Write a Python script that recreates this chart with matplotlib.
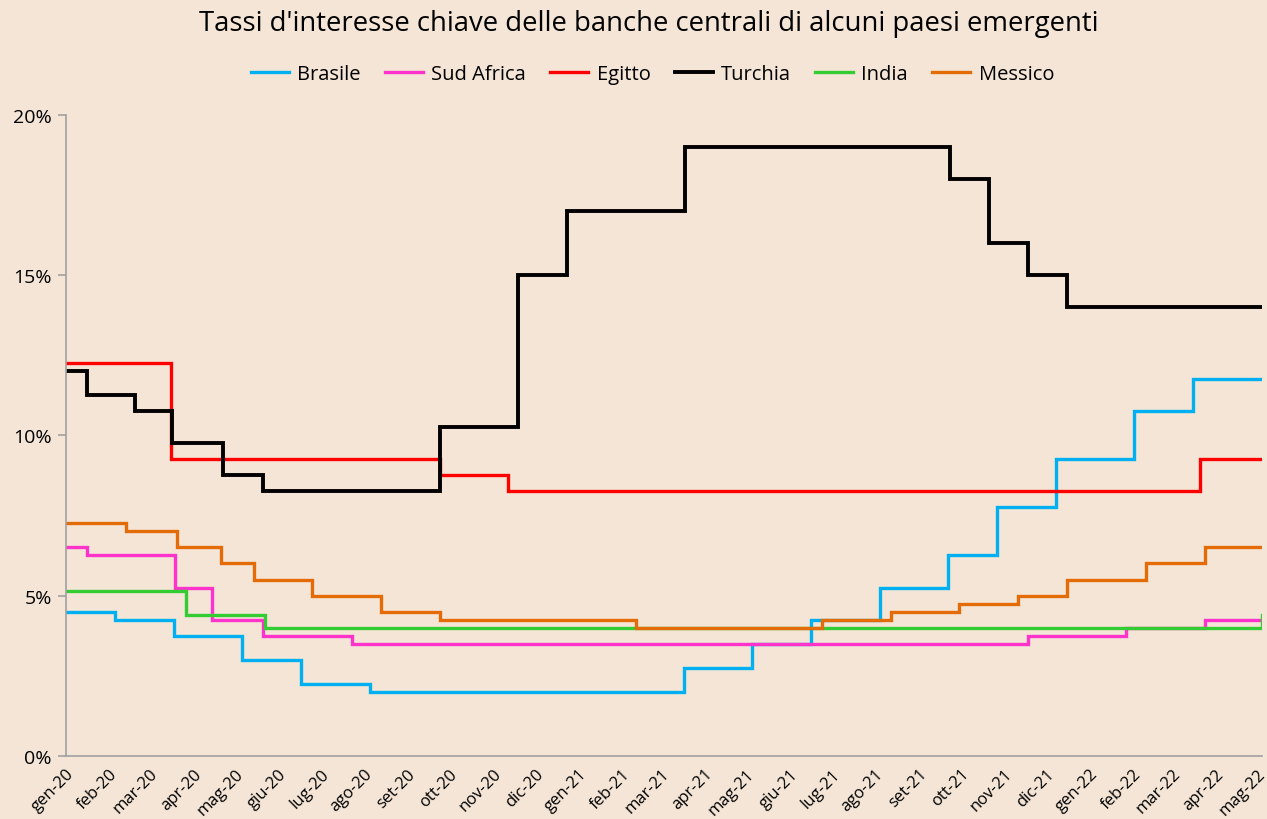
import numpy as np
import pandas as pd
import matplotlib
matplotlib.use("Agg")
from matplotlib import pyplot as plt
import matplotlib.dates as mdates

# dates of policy rate changes and new level (%)
brasile_dates = ['2020-01-01', '2020-02-05', '2020-03-18', '2020-05-06', '2020-06-17', '2020-08-05',
                 '2021-03-17', '2021-05-05', '2021-06-16', '2021-08-04', '2021-09-22', '2021-10-27',
                 '2021-12-08', '2022-02-02', '2022-03-16']
brasile_vals = [4.5, 4.25, 3.75, 3.0, 2.25, 2.0, 2.75, 3.5, 4.25, 5.25, 6.25, 7.75, 9.25, 10.75, 11.75]

sudafrica_dates = ['2020-01-01', '2020-01-16', '2020-03-19', '2020-04-14', '2020-05-21', '2020-07-23',
                   '2021-11-18', '2022-01-27', '2022-03-24']
sudafrica_vals = [6.5, 6.25, 5.25, 4.25, 3.75, 3.5, 3.75, 4.0, 4.25]

egitto_dates = ['2020-01-01', '2020-03-16', '2020-09-24', '2020-11-12', '2022-03-21']
egitto_vals = [12.25, 9.25, 8.75, 8.25, 9.25]

turchia_dates = ['2020-01-01', '2020-01-16', '2020-02-19', '2020-03-17', '2020-04-22', '2020-05-21',
                 '2020-09-24', '2020-11-19', '2020-12-24', '2021-03-18', '2021-09-23', '2021-10-21',
                 '2021-11-18', '2021-12-16']
turchia_vals = [12.0, 11.25, 10.75, 9.75, 8.75, 8.25, 10.25, 15.0, 17.0, 19.0, 18.0, 16.0, 15.0, 14.0]

india_dates = ['2020-01-01', '2020-03-27', '2020-05-22', '2022-05-04']
india_vals = [5.15, 4.4, 4.0, 4.4]

messico_dates = ['2020-01-01', '2020-02-13', '2020-03-20', '2020-04-21', '2020-05-14', '2020-06-25',
                 '2020-08-13', '2020-09-24', '2021-02-11', '2021-06-24', '2021-08-12', '2021-09-30',
                 '2021-11-11', '2021-12-16', '2022-02-10', '2022-03-24']
messico_vals = [7.25, 7.0, 6.5, 6.0, 5.5, 5.0, 4.5, 4.25, 4.0, 4.25, 4.5, 4.75, 5.0, 5.5, 6.0, 6.5]

end_date = '2022-05-04'
mesi = ['gen', 'feb', 'mar', 'apr', 'mag', 'giu', 'lug', 'ago', 'set', 'ott', 'nov', 'dic']

series = [
    ('Brasile', brasile_dates, brasile_vals, '#00B0F0', 2.4),
    ('Sud Africa', sudafrica_dates, sudafrica_vals, '#FF33CC', 2.4),
    ('Egitto', egitto_dates, egitto_vals, '#FF0000', 2.4),
    ('Turchia', turchia_dates, turchia_vals, '#000000', 2.8),
    ('India', india_dates, india_vals, '#33CC33', 2.4),
    ('Messico', messico_dates, messico_vals, '#E36C09', 2.4),
]

bg = '#F4E5D6'
plt.rcParams['font.family'] = ['Open Sans', 'DejaVu Sans']

fig = plt.figure(figsize=(12.67, 8.2), dpi=100, facecolor=bg)
ax = fig.add_axes([0.052, 0.077, 0.944, 0.782])
ax.set_facecolor(bg)

for name, d, v, col, lw in series:
    x = pd.to_datetime(d + [end_date])
    y = v + [v[-1]]
    ax.plot(x, y, drawstyle='steps-post', color=col, lw=lw, label=name, solid_joinstyle='miter')

ax.set_xlim(pd.Timestamp('2020-01-01'), pd.Timestamp(end_date))
ax.set_ylim(0, 20)
ax.set_yticks([0, 5, 10, 15, 20])
ax.set_yticklabels(['%d%%' % t for t in [0, 5, 10, 15, 20]], fontsize=14)

ticks = pd.date_range('2020-01-01', '2022-05-01', freq='MS')
ax.set_xticks(ticks)
ax.set_xticklabels(['%s-%s' % (mesi[t.month - 1], str(t.year)[2:]) for t in ticks],
                   rotation=45, ha='right', rotation_mode='anchor', fontsize=12)
ax.tick_params(axis='x', length=0, pad=7)
ax.tick_params(axis='y', length=6, color='#A0A0A0', width=1.2, pad=4)

for s in ['top', 'right']:
    ax.spines[s].set_visible(False)
for s in ['left', 'bottom']:
    ax.spines[s].set_color('#A0A0A0')
    ax.spines[s].set_linewidth(1.2)

fig.text(0.512, 0.971, "Tassi d'interesse chiave delle banche centrali di alcuni paesi emergenti",
         ha='center', va='center', fontsize=19.8)
fig.legend(loc='center', bbox_to_anchor=(0.515, 0.909), ncol=6, frameon=False, fontsize=14.5,
           handlelength=1.9, columnspacing=1.2, handletextpad=0.4)

fig.savefig('out.png', dpi=100, facecolor=bg)
